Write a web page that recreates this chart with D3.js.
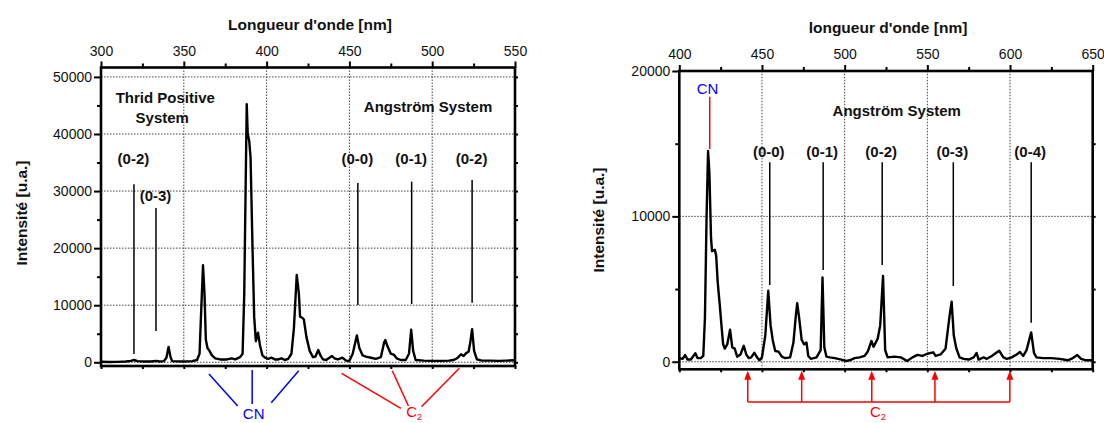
<!DOCTYPE html>
<html><head><meta charset="utf-8">
<script src="https://cdn.jsdelivr.net/npm/d3@7"></script>
<style>
body{margin:0;background:#fff;}
svg{display:block;font-family:"Liberation Sans",Arial,sans-serif;}
</style></head>
<body><svg id="c" width="1104" height="423"></svg>
<script>
// ---------- DATA ----------
const leftNm  = [300,305,310,315,318,320,322,326,330,333.6,335,338,339.5,340.8,342,343,350,355,358,359.5,360.5,361.6,362.5,363.3,364.3,365.5,367,369,372,376,379,381,384,385.5,386.5,388.0,388.6,389.5,390.3,391.5,392.5,393.5,394.8,396,397.5,399,401,403,405,407,409,411,413,415,416.5,418.2,419.5,420.2,421.5,422.5,424,426,428,429.5,431.2,432.5,434,436,439.5,441,443,445.8,448,450,452,454.5,456,458,460,463,466,469,471,471.7,473,475,477,478.5,481,484,486,487.3,488.5,490,495,500,505,510,513,515,517.4,519,520.5,522,523,524.1,525.3,527,530,535,540,545,550];
const leftInt = [100,50,80,150,250,400,200,150,150,250,150,200,800,2700,900,200,150,200,400,1500,9000,17000,12000,4000,2500,2000,1200,700,500,500,700,500,900,1500,12000,45200,40000,38800,36000,20000,8000,3700,5200,3000,1200,800,600,800,500,500,700,400,600,1500,6000,15300,12000,8000,7800,7500,4500,2000,900,1000,2150,1200,500,400,1100,700,500,800,300,250,1500,4700,2500,1200,1000,800,600,900,3500,3900,2800,1500,1300,700,400,400,1500,5700,2000,400,300,250,250,300,400,700,1400,1100,1600,1900,3500,5800,2000,500,300,300,250,300,350];

const rightNm  = [400,402,403.5,405,407,409.7,411,413,414.5,415.5,416.5,417.4,418.2,419.2,419.8,421.5,422.3,423.2,424.4,425.5,426.5,427.5,429,430.7,432,433.5,435,437,439,440.5,442,443.5,445.4,447,448.5,450,452,453.8,455.2,456.5,458,460,462,464,467,469,470.5,471.3,472.5,474,475.5,476.9,478,479.5,483,485.5,486.6,487.7,489,491,494,498,501,503,506,509,512,514,516.2,517.5,520,521.5,523.2,524.5,526,530,534,537.8,541,544,547,550,553.6,555,558,561,563.5,564.7,566,567.5,569.5,572,575,578,579.8,581,584,586,589,593.4,596,598,601,604,606,608,610,612.8,614.5,616,620,625,630,635,638,640.7,643,646,650];
const rightInt = [250,200,460,150,150,580,250,250,400,3000,10000,14500,13000,8500,7600,7700,7300,5500,4000,2500,1200,900,1200,2200,1000,900,350,500,1100,500,250,300,620,300,100,300,1800,4880,2500,1500,740,700,350,250,300,1300,3200,4020,3000,1500,1200,1330,400,200,300,800,5800,1000,350,300,250,150,50,100,250,300,400,700,1430,1030,1600,2500,5900,800,300,350,300,50,300,470,400,550,650,400,500,900,3200,4130,1800,935,300,200,150,300,600,150,300,200,400,760,300,200,300,500,670,400,800,2020,600,300,250,250,200,100,250,460,200,100,100];

// axis ticks
const leftXTicks  = [300,350,400,450,500,550];
const leftYTicks  = [0,10000,20000,30000,40000,50000];
const rightXTicks = [400,450,500,550,600,650];
const rightYTicks = [0,10000,20000];

// annotations (wavelength nm / intensity)
const leftBandLabels = ["(0-2)","(0-3)","(0-0)","(0-1)","(0-2)"];
const leftBandNm     = [319.9,333.2,455.1,487.6,524.1];
const leftBandTop    = [31190,27040,31420,31650,31950];
const leftBandBottom = [1450,5490,10040,10220,10450];
const leftBandLabelY = [35740,29190,35740,35740,35740];
const leftCNNm = [365.2,391.3,419.4];
const leftC2Nm = [445.3,475.9,516.4];

const rightBandLabels = ["(0-0)","(0-1)","(0-2)","(0-3)","(0-4)"];
const rightBandNm     = [454.7,487.0,522.7,565.7,612.8];
const rightBandTop    = [13720,13720,13720,13720,13720];
const rightBandBottom = [5280,6310,6650,5210,2680];
const rightCNNm = 418.4;
const rightCNRange = [18230,14630];
const rightC2Nm = [441.4,474.0,516.4,554.6,599.9];

// ---------- DRAW ----------
const svg = d3.select("#c");
const FONT = 14, TITLE = 15.5, LAB = 15;

function panel(o){
  const x = d3.scaleLinear().domain(o.xDom).range([o.x0,o.x1]);
  const y = d3.scaleLinear().domain(o.yDom).range([o.y0,o.y1]);
  const g = svg.append("g");
  // grid
  g.selectAll(".gx").data(o.xTicks.slice(1,-1)).join("line")
    .attr("x1",d=>x(d)).attr("x2",d=>x(d)).attr("y1",o.y0).attr("y2",o.y1)
    .attr("stroke","#444").attr("stroke-width",1).attr("stroke-dasharray","1.5,1.5");
  g.selectAll(".gy").data(o.yTicks.filter(d=>y(d)>o.y1+2)).join("line")
    .attr("x1",o.x0).attr("x2",o.x1).attr("y1",d=>y(d)).attr("y2",d=>y(d))
    .attr("stroke","#444").attr("stroke-width",1).attr("stroke-dasharray","1.5,1.5");
  // axes
  const minorX = d3.range(o.xDom[0], o.xDom[1]+0.1, 25);
  const top = d3.axisTop(x).tickValues(o.xTicks).tickSize(6).tickFormat(d3.format("d"));
  g.append("g").attr("transform",`translate(0,${o.y1})`).call(top)
    .call(a=>{a.select(".domain").remove(); a.selectAll("text").attr("font-size",FONT).attr("fill","#111").attr("dy",o.topDy);
      a.selectAll("line").attr("stroke-width",2).attr("stroke","#000");});
  g.append("g").attr("transform",`translate(0,${o.y1})`)
    .call(d3.axisTop(x).tickValues(minorX.filter(d=>!o.xTicks.includes(d))).tickSize(4).tickFormat(""))
    .call(a=>{a.select(".domain").remove(); a.selectAll("line").attr("stroke-width",2).attr("stroke","#000");});
  g.append("g").attr("transform",`translate(0,${o.y0})`)
    .call(d3.axisBottom(x).tickValues(minorX).tickSize(3).tickFormat(""))
    .call(a=>{a.select(".domain").remove(); a.selectAll("line").attr("stroke-width",2).attr("stroke","#000");});
  const left = d3.axisLeft(y).tickValues(o.yTicks).tickSize(7).tickFormat(d3.format("d"));
  g.append("g").attr("transform",`translate(${o.x0},0)`).call(left)
    .call(a=>{a.select(".domain").remove(); a.selectAll("text").attr("font-size",FONT).attr("fill","#111").attr("x",-9);
      a.selectAll("line").attr("stroke-width",2).attr("stroke","#000");});
  const step = o.yTicks[1]-o.yTicks[0];
  const minorY = o.yTicks.slice(0,-1).map(d=>d+step/2).filter(d=>y(d)>o.y1);
  g.append("g").attr("transform",`translate(${o.x0},0)`)
    .call(d3.axisLeft(y).tickValues(minorY).tickSize(4).tickFormat(""))
    .call(a=>{a.select(".domain").remove(); a.selectAll("line").attr("stroke-width",2).attr("stroke","#000");});
  g.append("g").attr("transform",`translate(${o.x1},0)`)
    .call(d3.axisRight(y).tickValues(minorY.concat(o.yTicks.filter(d=>y(d)>o.y1+2))).tickSize(3).tickFormat(""))
    .call(a=>{a.select(".domain").remove(); a.selectAll("line").attr("stroke-width",2).attr("stroke","#000");});
  // spectrum
  const pts = o.nm.map((d,i)=>[d,o.int[i]]);
  g.append("path").datum(pts)
    .attr("d",d3.line().x(d=>x(d[0])).y(d=>y(d[1])))
    .attr("fill","none").attr("stroke","#000").attr("stroke-width",2.4).attr("stroke-linejoin","round");
  // frame
  g.append("rect").attr("x",o.x0).attr("y",o.y1).attr("width",o.x1-o.x0).attr("height",o.y0-o.y1)
    .attr("fill","none").attr("stroke","#000").attr("stroke-width",2.6);
  // titles
  g.append("text").attr("x",(o.x0+o.x1)/2+o.titleDx).attr("y",o.titleY).attr("text-anchor","middle")
    .attr("font-size",TITLE).attr("font-weight","bold").attr("fill","#111").text(o.title);
  g.append("text").attr("transform",`translate(${o.ylabX},${o.ylabY}) rotate(-90)`).attr("text-anchor","middle")
    .attr("dominant-baseline","central")
    .attr("font-size",TITLE).attr("font-weight","bold").attr("fill","#111").text("Intensité [u.a.]");
  return {x,y,g};
}

// LEFT
const L = panel({xDom:[300,550], yDom:[-650,51650], x0:101, x1:515, y0:366, y1:67.5,
  xTicks:leftXTicks, yTicks:leftYTicks, nm:leftNm, int:leftInt,
  title:"Longueur d'onde [nm]", titleDx:2, titleY:30, topDy:"-0.15em", ylabX:21, ylabY:213});
{
  const {x,y,g} = L;
  g.selectAll(".bl").data(leftBandNm).join("line")
    .attr("x1",d=>x(d)).attr("x2",d=>x(d)).attr("y1",(d,i)=>y(leftBandTop[i])).attr("y2",(d,i)=>y(leftBandBottom[i]))
    .attr("stroke","#000").attr("stroke-width",1.5);
  g.selectAll(".bt").data(leftBandLabels).join("text")
    .attr("x",(d,i)=>x(leftBandNm[i])-0.5).attr("y",(d,i)=>y(leftBandLabelY[i])).attr("dominant-baseline","central")
    .attr("text-anchor","middle").attr("font-size",LAB).attr("font-weight","bold").attr("fill","#111").text(d=>d);
  g.append("text").attr("x",x(338.8)).attr("y",97).attr("dominant-baseline","central").attr("text-anchor","middle")
    .attr("font-size",LAB).attr("font-weight","bold").attr("fill","#111").text("Thrid Positive");
  g.append("text").attr("x",x(337)).attr("y",117).attr("dominant-baseline","central").attr("text-anchor","middle")
    .attr("font-size",LAB).attr("font-weight","bold").attr("fill","#111").text("System");
  g.append("text").attr("x",x(497.5)).attr("y",106).attr("dominant-baseline","central").attr("text-anchor","middle")
    .attr("font-size",LAB).attr("font-weight","bold").attr("fill","#111").text("Angström System");
  // CN group
  const cnX = x(392.2), cnTop=[374,370,370.7], cnBot=[[cnX-16,406],[cnX-1.4,404],[cnX+17.6,402.7]];
  leftCNNm.forEach((d,i)=>g.append("line").attr("x1",x(d)).attr("y1",cnTop[i]).attr("x2",i==1?x(d):cnBot[i][0]).attr("y2",cnBot[i][1])
    .attr("stroke","#0000ff").attr("stroke-width",1.5));
  g.append("text").attr("x",cnX).attr("y",419).attr("text-anchor","middle").attr("font-size",LAB).attr("fill","#0000ff").text("CN");
  const c2X = x(487.3), c2Top=[373.3,370.7,368.3], c2Bot=[[c2X-10.3,408.3],[c2X-2.7,406],[c2X+10.3,406.7]];
  leftC2Nm.forEach((d,i)=>g.append("line").attr("x1",x(d)).attr("y1",c2Top[i]).attr("x2",c2Bot[i][0]).attr("y2",c2Bot[i][1])
    .attr("stroke","#ff0000").attr("stroke-width",1.5));
  const t = g.append("text").attr("x",c2X-5).attr("y",417).attr("font-size",LAB).attr("fill","#ff0000");
  t.append("tspan").text("C"); t.append("tspan").attr("font-size",9).attr("dy",3).text("2");
}

// RIGHT
const R = panel({xDom:[400,650], yDom:[-520,20000], x0:679.3, x1:1092.7, y0:369.3, y1:71,
  xTicks:rightXTicks, yTicks:rightYTicks, nm:rightNm, int:rightInt,
  title:"longueur d'onde [nm]", titleDx:2, titleY:33, topDy:"-0.25em", ylabX:598, ylabY:220});
{
  const {x,y,g} = R;
  g.selectAll(".bl").data(rightBandNm).join("line")
    .attr("x1",d=>x(d)).attr("x2",d=>x(d)).attr("y1",(d,i)=>y(rightBandTop[i])).attr("y2",(d,i)=>y(rightBandBottom[i]))
    .attr("stroke","#000").attr("stroke-width",1.5);
  g.selectAll(".bt").data(rightBandLabels).join("text")
    .attr("x",(d,i)=>x(rightBandNm[i])-1).attr("y",151).attr("dominant-baseline","central")
    .attr("text-anchor","middle").attr("font-size",LAB).attr("font-weight","bold").attr("fill","#111").text(d=>d);
  g.append("text").attr("x",x(531.5)).attr("y",110).attr("dominant-baseline","central").attr("text-anchor","middle")
    .attr("font-size",LAB).attr("font-weight","bold").attr("fill","#111").text("Angström System");
  g.append("text").attr("x",x(417.1)).attr("y",88.5).attr("dominant-baseline","central").attr("text-anchor","middle")
    .attr("font-size",LAB).attr("fill","#0000ff").text("CN");
  g.append("line").attr("x1",x(rightCNNm)).attr("x2",x(rightCNNm)).attr("y1",y(rightCNRange[0])).attr("y2",y(rightCNRange[1]))
    .attr("stroke","#ff0000").attr("stroke-width",1.5);
  // C2 arrows
  const baseY = 402, tipY = 370.8;
  rightC2Nm.forEach(d=>{
    g.append("line").attr("x1",x(d)).attr("x2",x(d)).attr("y1",tipY+6).attr("y2",baseY).attr("stroke","#ff0000").attr("stroke-width",1.5);
    g.append("path").attr("d",`M${x(d)},${tipY} l-3.5,9 l7,0 z`).attr("fill","#ff0000");
  });
  g.append("line").attr("x1",x(rightC2Nm[0])).attr("x2",x(rightC2Nm[rightC2Nm.length-1])).attr("y1",baseY).attr("y2",baseY)
    .attr("stroke","#ff0000").attr("stroke-width",1.5);
  const t = g.append("text").attr("x",x(518.9)-6).attr("y",417).attr("font-size",LAB).attr("fill","#ff0000");
  t.append("tspan").text("C"); t.append("tspan").attr("font-size",9).attr("dy",3).text("2");
}
</script></body></html>
